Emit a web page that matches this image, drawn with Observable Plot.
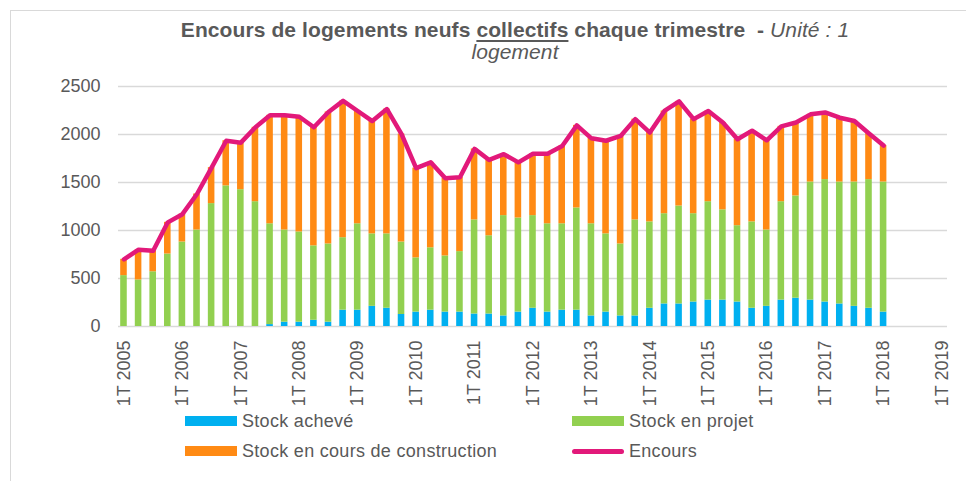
<!DOCTYPE html>
<html>
<head>
<meta charset="utf-8">
<script src="https://cdn.jsdelivr.net/npm/d3@7"></script>
<script src="https://cdn.jsdelivr.net/npm/@observablehq/plot@0.6"></script>
<style>
  html, body { margin: 0; padding: 0; background: #fff; }
  #wrap { position: relative; width: 966px; height: 481px; overflow: hidden; font-family: "Liberation Sans", Arial, sans-serif; color: #595959; }
  #borderTop { position: absolute; left: 10px; top: 10px; width: 960px; height: 0; border-top: 1.5px solid #d9d9d9; }
  #borderLeft { position: absolute; left: 10px; top: 10px; width: 0; height: 480px; border-left: 1.5px solid #d9d9d9; }
  #title { position: absolute; left: 0; width: 1030px; top: 19px; text-align: center; font-weight: bold; font-size: 21px; line-height: 22px; letter-spacing: 0.1px; }
  #title .ul { text-decoration: underline; text-decoration-thickness: 2px; text-underline-offset: 3px; }
  #title .it { font-weight: normal; font-style: italic; }
  #chart { position: absolute; left: 0; top: 0; }
  .leg { position: absolute; font-size: 18px; line-height: 22px; white-space: nowrap; letter-spacing: 0.3px; }
  .sw { position: absolute; width: 52px; height: 10px; }
</style>
</head>
<body>
<div id="wrap">
  <div id="borderTop"></div>
  <div id="borderLeft"></div>
  <div id="chart"></div>
  <div id="title"><span>Encours de logements neufs </span><span class="ul">collectifs</span><span> chaque trimestre&nbsp; - </span><span class="it">Unité : 1</span><br><span class="it">logement</span></div>
  <div id="legend"></div>
</div>
<script>
const quarters = [
  "1T 2005","2T 2005","3T 2005","4T 2005",
  "1T 2006","2T 2006","3T 2006","4T 2006",
  "1T 2007","2T 2007","3T 2007","4T 2007",
  "1T 2008","2T 2008","3T 2008","4T 2008",
  "1T 2009","2T 2009","3T 2009","4T 2009",
  "1T 2010","2T 2010","3T 2010","4T 2010",
  "1T 2011","2T 2011","3T 2011","4T 2011",
  "1T 2012","2T 2012","3T 2012","4T 2012",
  "1T 2013","2T 2013","3T 2013","4T 2013",
  "1T 2014","2T 2014","3T 2014","4T 2014",
  "1T 2015","2T 2015","3T 2015","4T 2015",
  "1T 2016","2T 2016","3T 2016","4T 2016",
  "1T 2017","2T 2017","3T 2017","4T 2017",
  "1T 2018","2T 2018","3T 2018","4T 2018",
  "1T 2019"
];
const tickLabels = ["1T 2005","1T 2006","1T 2007","1T 2008","1T 2009","1T 2010","1T 2011","1T 2012","1T 2013","1T 2014","1T 2015","1T 2016","1T 2017","1T 2018","1T 2019"];
const yTicks = [0, 500, 1000, 1500, 2000, 2500];

const series = ["Stock achevé", "Stock en projet", "Stock en cours de construction"];
const seriesColors = ["#00B0F0", "#92D050", "#FF8A14"];
const lineName = "Encours";
const lineColor = "#E2197A";

const stockAcheve = [0,0,0,0,0,0,0,0,0,0, 20,45,45,65,45,170,170,210,190,125, 150,170,150,150,130,130,110,150,190,150, 170,170,110,150,110,110,190,235,235,255, 275,275,255,190,210,275,295,275,255,235, 210,190,150];
const stockProjet = [530,485,570,755,880,1005,1280,1465,1425,1300, 1050,960,940,775,815,755,900,755,775,755, 565,650,585,630,980,815,1045,980,965,920, 900,1065,960,815,750,1000,900,940,1020,920, 1025,940,795,900,795,1025,1065,1230,1275,1270, 1295,1340,1355];
const stockConstruction = [170,315,220,330,290,375,375,470,490,775, 1130,1195,1200,1235,1375,1425,1175,1175,1300,1125, 935,890,810,775,740,790,640,580,645,730, 810,860,890,970,1125,1050,930,1070,1090,985, 945,910,900,950,935,785,765,705,700,670, 635,480,380];
const encours = [700,800,790,1085,1170,1380,1655,1935,1915,2075, 2200,2200,2185,2075,2235,2350,2245,2140,2265,2005, 1650,1710,1545,1555,1850,1735,1795,1710,1800,1800, 1880,2095,1960,1935,1985,2160,2020,2245,2345,2160, 2245,2125,1950,2040,1940,2085,2125,2210,2230,2175, 2140,2010,1885];

const barData = [];
stockAcheve.forEach((v, i) => {
  barData.push({q: quarters[i], serie: series[0], v: stockAcheve[i]});
  barData.push({q: quarters[i], serie: series[1], v: stockProjet[i]});
  barData.push({q: quarters[i], serie: series[2], v: stockConstruction[i]});
});
const lineData = encours.map((v, i) => ({q: quarters[i], v}));

const chart = Plot.plot({
  width: 966,
  height: 420,
  marginLeft: 118,
  marginRight: 19,
  marginTop: 86,
  marginBottom: 94,
  style: {fontFamily: "'Liberation Sans', Arial, sans-serif", fontSize: "18px", color: "#595959", background: "transparent"},
  x: {type: "band", domain: quarters, paddingInner: 0.55, paddingOuter: 0.15},
  y: {domain: [0, 2500]},
  color: {domain: series, range: seriesColors},
  marks: [
    Plot.ruleY(yTicks, {stroke: "#d9d9d9", strokeWidth: 1.5}),
    Plot.barY(barData, {x: "q", y: "v", fill: "serie", order: series}),
    Plot.lineY(lineData, {x: "q", y: "v", stroke: lineColor, strokeWidth: 4.5, strokeLinejoin: "round", strokeLinecap: "round"}),
    Plot.axisX({ticks: tickLabels, tickRotate: -90, tickSize: 0, tickPadding: 14, label: null}),
    Plot.axisY({ticks: yTicks, tickSize: 0, tickPadding: 18, tickFormat: d => String(d), label: null})
  ]
});
document.getElementById("chart").appendChild(chart);

const legend = document.getElementById("legend");
const legItems = [
  {name: series[0], color: seriesColors[0], x: 185, y: 421, type: "bar"},
  {name: series[1], color: seriesColors[1], x: 572, y: 421, type: "bar"},
  {name: series[2], color: seriesColors[2], x: 185, y: 451, type: "bar"},
  {name: lineName, color: lineColor, x: 572, y: 451, type: "line"}
];
legItems.forEach(it => {
  const sw = document.createElement("div");
  sw.className = "sw";
  sw.style.left = it.x + "px";
  if (it.type === "bar") {
    sw.style.top = (it.y - 5) + "px";
    sw.style.height = "10px";
  } else {
    sw.style.top = (it.y - 2.5) + "px";
    sw.style.height = "5px";
    sw.style.borderRadius = "3px";
  }
  sw.style.background = it.color;
  legend.appendChild(sw);
  const t = document.createElement("div");
  t.className = "leg";
  t.textContent = it.name;
  t.style.left = (it.x + 57) + "px";
  t.style.top = (it.y - 11) + "px";
  legend.appendChild(t);
});
</script>
</body>
</html>
